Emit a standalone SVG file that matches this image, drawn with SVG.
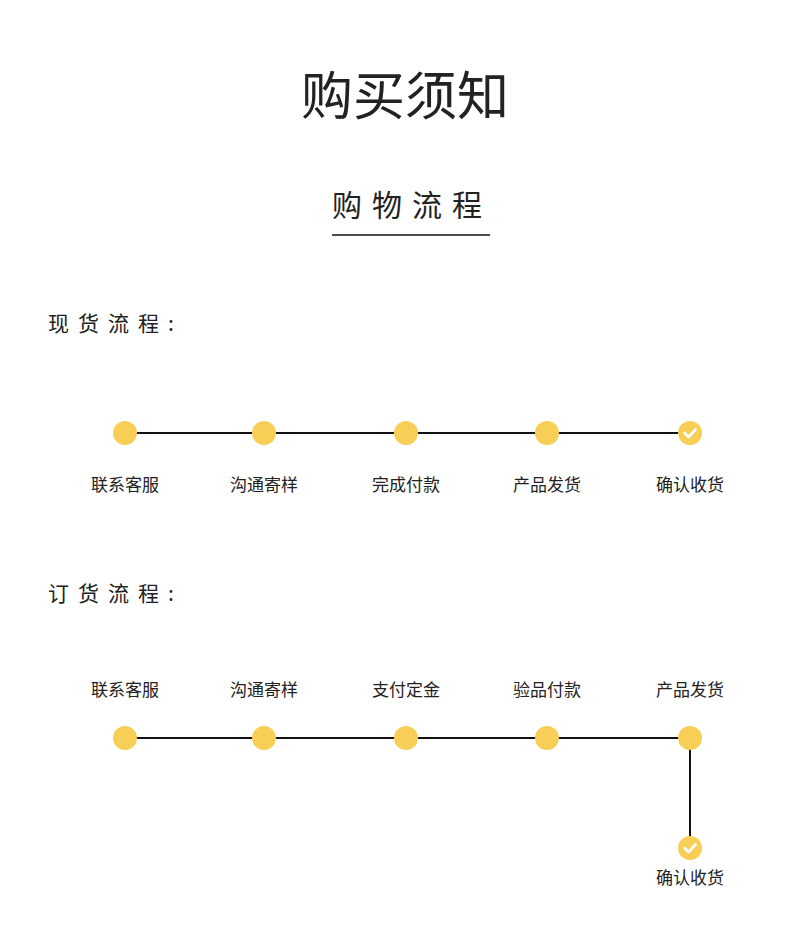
<svg xmlns="http://www.w3.org/2000/svg" width="790" height="933" viewBox="0 0 790 933">
<defs>
<style>
text{font-family:"Noto Sans CJK SC","Liberation Sans",sans-serif;fill:#222}
.t{font-size:52px}
.s{font-size:30px;letter-spacing:10px}
.h{font-size:21px;letter-spacing:9px}
.l{font-size:17px;text-anchor:middle}
.d{fill:#F7CF57}
.ln{stroke:#111;stroke-width:2;fill:none}
.ck{stroke:#fff;stroke-width:2.6;fill:none;stroke-linecap:round;stroke-linejoin:round}
</style>
<g id="chk"><circle r="12" class="d"/><path class="ck" d="M-5.5,0 L-1.5,4 L5.5,-3.5"/></g>
</defs>
<rect width="790" height="933" fill="#fff"/>
<text class="t" x="405" y="115" text-anchor="middle">购买须知</text>
<text class="s" x="332" y="216">购物流程</text>
<line x1="332" y1="235" x2="490" y2="235" stroke="#111" stroke-width="1.5"/>
<text class="h" x="48" y="331">现货流程:</text>
<text class="h" x="48" y="601">订货流程:</text>
<g id="connectors">
<line class="ln" x1="125" y1="433" x2="690" y2="433"/>
<line class="ln" x1="125" y1="738" x2="690" y2="738"/>
<line class="ln" x1="690" y1="738" x2="690" y2="848"/>
</g>
<g id="a1"><circle class="d" cx="125" cy="433" r="12"/><text class="l" x="125" y="491">联系客服</text></g>
<g id="a2"><circle class="d" cx="264" cy="433" r="12"/><text class="l" x="264" y="491">沟通寄样</text></g>
<g id="a3"><circle class="d" cx="406" cy="433" r="12"/><text class="l" x="406" y="491">完成付款</text></g>
<g id="a4"><circle class="d" cx="547" cy="433" r="12"/><text class="l" x="547" y="491">产品发货</text></g>
<g id="a5"><use href="#chk" x="690" y="433"/><text class="l" x="690" y="491">确认收货</text></g>
<g id="b1"><circle class="d" cx="125" cy="738" r="12"/><text class="l" x="125" y="696">联系客服</text></g>
<g id="b2"><circle class="d" cx="264" cy="738" r="12"/><text class="l" x="264" y="696">沟通寄样</text></g>
<g id="b3"><circle class="d" cx="406" cy="738" r="12"/><text class="l" x="406" y="696">支付定金</text></g>
<g id="b4"><circle class="d" cx="547" cy="738" r="12"/><text class="l" x="547" y="696">验品付款</text></g>
<g id="b5"><circle class="d" cx="690" cy="738" r="12"/><text class="l" x="690" y="696">产品发货</text></g>
<g id="b6"><use href="#chk" x="690" y="848"/><text class="l" x="690" y="884">确认收货</text></g>
</svg>
